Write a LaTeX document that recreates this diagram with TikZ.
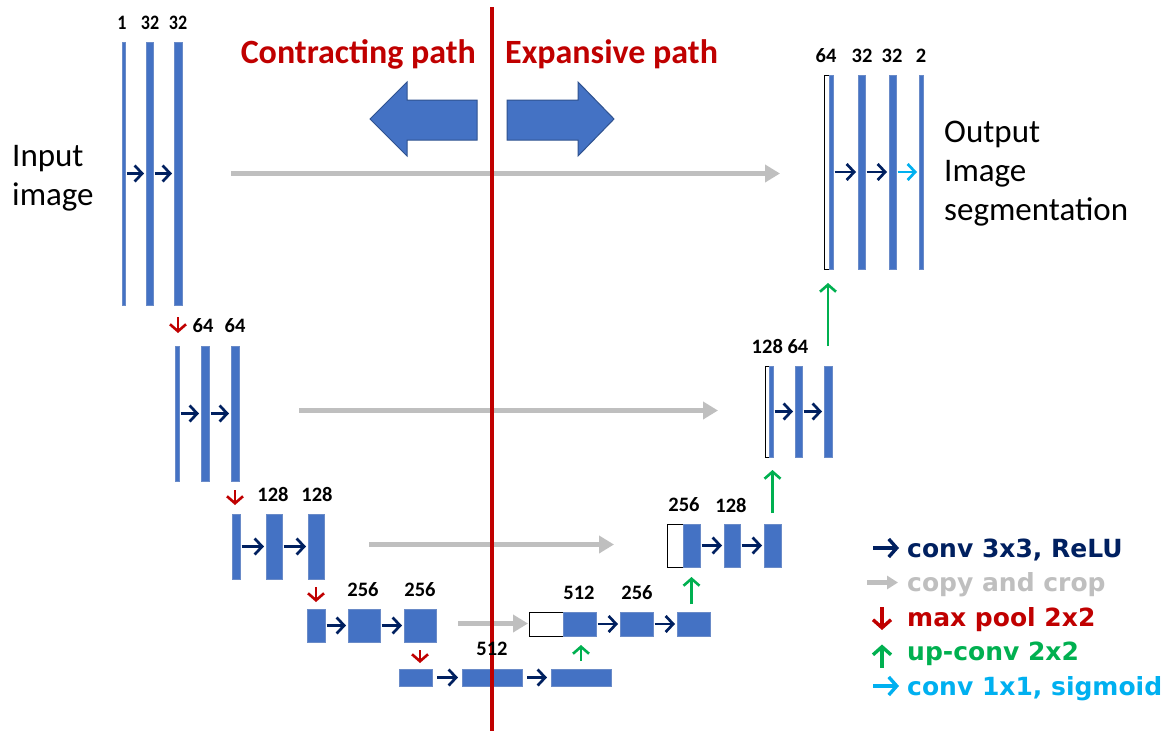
\documentclass[tikz,border=0pt]{standalone}
\usepackage{fontspec}
\setmainfont{Carlito}
\newfontfamily\legendfont{DejaVu Sans}
\usetikzlibrary{arrows.meta,calc}

\definecolor{fmblue}{HTML}{4472C4}
\definecolor{fmedge}{HTML}{6A8BC8}
\definecolor{blockedge}{HTML}{2F528F}
\definecolor{navy}{HTML}{002060}
\definecolor{cpgray}{HTML}{BFBFBF}
\definecolor{poolred}{HTML}{C00000}
\definecolor{upgreen}{HTML}{00B050}
\definecolor{sigcyan}{HTML}{00B0F0}

% feature map: name, x-left, x-right, y-top, y-bottom (pixels, y downwards)
\newcommand\fmap[5]{\node[blk, minimum width={#3-#2}, minimum height={#5-#4}] (#1) at ({(#2+#3)/2},{(#4+#5)/2}) {};}
\newcommand\fmapw[5]{\node[wblk, minimum width={#3-#2}, minimum height={#5-#4}] (#1) at ({(#2+#3)/2},{(#4+#5)/2}) {};}
\newcommand\narrow[1]{\scalebox{0.88}[1]{#1}}

\tikzset{
  blk/.style={draw=fmedge, fill=fmblue, line width=0.6pt, inner sep=0pt, outer sep=0pt},
  wblk/.style={draw=black, fill=white, line width=0.8pt, inner sep=0pt, outer sep=0pt},
  convarr/.style={navy, line width=2.7pt, shorten <=1.5pt, shorten >=2pt,
    -{Straight Barb[length=7.5pt,width=16pt]}},
  sigarr/.style={sigcyan, line width=2.7pt, shorten <=1.5pt, shorten >=2pt,
    -{Straight Barb[length=7.5pt,width=16pt]}},
  poolarr/.style={poolred, line width=2.6pt, -{Straight Barb[length=7pt,width=16pt]}},
  uparr/.style={upgreen, line width=2.6pt, -{Straight Barb[length=7pt,width=16pt]}},
  copyarr/.style={cpgray, line width=5.5pt, -{Triangle[length=15pt,width=17pt]}},
  num/.style={font=\fontsize{20.5}{20.5}\selectfont\bfseries, inner sep=0pt},
  pathlbl/.style={font=\fontsize{34}{34}\selectfont\bfseries, text=poolred, inner sep=0pt},
  io/.style={font=\fontsize{33}{33}\selectfont, inner sep=0pt, anchor=base west},
  lgd/.style={font=\legendfont\fontsize{25}{25}\selectfont\bfseries, inner sep=0pt, anchor=base west},
  blockarrow/.style={fill=fmblue, draw=blockedge, line width=1pt, line join=miter},
}

\begin{document}
\begin{tikzpicture}[x=1pt, y=-1pt]
\useasboundingbox (0,0) rectangle (1164,731);
\fill[white] (0,0) rectangle (1164,731);

% contracting path
\fmap{a1}{122}{125}{42}{305}
\fmap{a2}{146}{153}{42}{305}
\fmap{a3}{174}{182}{42}{305}
\fmap{b1}{175}{179}{346}{481}
\fmap{b2}{201}{209}{346}{481}
\fmap{b3}{231}{239}{346}{481}
\fmap{c1}{232}{240}{514}{579}
\fmap{c2}{266}{282}{514}{579}
\fmap{c3}{308}{324}{514}{579}
\fmap{d1}{307}{325}{609}{642}
\fmap{d2}{348}{380}{609}{642}
\fmap{d3}{404}{436}{609}{642}
% bottleneck
\fmap{e1}{399}{432}{669}{686}
\fmap{e2}{462}{522}{669}{686}
\fmap{e3}{551}{611}{669}{686}
% expansive path
\fmapw{f0}{529}{563}{612}{636}
\fmap{f1}{563}{596}{612}{636}
\fmap{f2}{620}{653}{612}{636}
\fmap{f3}{677}{710}{612}{636}
\fmapw{g0}{667}{683}{524}{567}
\fmap{g1}{683}{700}{524}{567}
\fmap{g2}{724}{740}{524}{567}
\fmap{g3}{764}{781}{524}{567}
\fmapw{h0}{765}{769}{366}{457}
\fmap{h1}{769}{773}{366}{457}
\fmap{h2}{795}{802}{366}{457}
\fmap{h3}{824}{832}{366}{457}
\fmapw{i0}{824}{829}{75}{269}
\fmap{i1}{829}{833}{75}{269}
\fmap{i2}{858}{865}{75}{269}
\fmap{i3}{889}{896}{75}{269}
\fmap{i4}{919}{923}{75}{269}

% 3x3 convolutions
\foreach \p/\q in {a1/a2,a2/a3,b1/b2,b2/b3,c1/c2,c2/c3,d1/d2,d2/d3,
                   f1/f2,f2/f3,g1/g2,g2/g3,h1/h2,h2/h3,i1/i2,i2/i3}
  \draw[convarr] (\p.east) -- (\q.west);
\draw[convarr, shorten <=5pt, shorten >=4pt] (e1.east) -- (e2.west);
\draw[convarr, shorten <=5pt, shorten >=4pt] (e2.east) -- (e3.west);
\draw[sigarr] (i3.east) -- (i4.west);

% skip connections
\draw[copyarr, shorten <=49pt, shorten >=44pt] (a3.east) -- (a3.east -| i0.west);
\draw[copyarr, shorten <=60pt, shorten >=47pt] ($(b3.east)+(0,-3)$) -- ($(b3.east -| h0.west)+(0,-3)$);
\draw[copyarr, shorten <=45pt, shorten >=53pt] ($(c3.east)+(0,-2)$) -- ($(c3.east -| g0.west)+(0,-2)$);
\draw[copyarr, shorten <=22pt, shorten >=1pt] ($(d3.east)+(0,-2)$) -- ($(d3.east -| f0.west)+(0,-2)$);

% max pooling
\draw[poolarr, shorten <=12pt, shorten >=13pt] (a3.south) -- (a3.south |- b1.north);
\draw[poolarr, shorten <=9pt, shorten >=9pt] (b3.south) -- (b3.south |- c1.north);
\draw[poolarr, shorten <=8pt, shorten >=7pt] (c3.south) -- (c3.south |- d1.north);
\draw[poolarr, shorten <=8pt, shorten >=6pt] (d3.south) -- (d3.south |- e1.north);

% up-convolutions
\draw[uparr, shorten <=8pt, shorten >=9pt] (e3.north) -- (e3.north |- f1.south);
\draw[uparr, shorten <=8pt, shorten >=10pt] (g1.south |- f3.north) -- (g1.south);
\draw[uparr, shorten <=11pt, shorten >=13pt] (g3.north) -- (g3.north |- h1.south);
\draw[uparr, shorten <=20pt, shorten >=14pt] (h3.north) -- (h3.north |- i1.south);

% direction arrows
\filldraw[blockarrow] (477,100) -- (407,100) -- (407,82) -- (370,119) -- (407,156) -- (407,140) -- (477,140) -- cycle;
\filldraw[blockarrow] (507,100) -- (578,100) -- (578,82) -- (614,119) -- (578,156) -- (578,140) -- (507,140) -- cycle;

% divider
\draw[poolred, line width=4.5pt] (492,7) -- (492,731);

% channel counts
\node[num] (n1) at (122,23) {\narrow{1}};
\node[num] (n2) at (150,23) {\narrow{32}};
\node[num] (n3) at (178,23) {\narrow{32}};
\node[num] (n4) at (203,326) {64};
\node[num] (n5) at (235,326) {64};
\node[num] (n6) at (273,494) {128};
\node[num] (n7) at (317,494) {128};
\node[num] (n8) at (363,590) {256};
\node[num] (n9) at (420,590) {256};
\node[num] (n10) at (492,649) {512};
\node[num] (n11) at (579,593) {512};
\node[num] (n12) at (637,593) {256};
\node[num] (n13) at (684,505) {256};
\node[num] (n14) at (731,505) {128};
\node[num] (n15) at (780,346) {128 64};
\node[num] (n16) at (826,56) {64};
\node[num] (n17) at (862,56) {32};
\node[num] (n18) at (892,56) {32};
\node[num] (n19) at (921,56) {2};

% headings
\node[pathlbl, anchor=base east] (contr) at (476,63) {Contracting path};
\node[pathlbl, anchor=base west] (expan) at (505,63) {Expansive path};

% input / output
\node[io] (in1) at (12,166) {Input};
\node[io] (in2) at (12,205) {image};
\node[io] (out1) at (944,142) {Output};
\node[io] (out2) at (944,181) {Image};
\node[io] (out3) at (944,220) {segmentation};

% legend
\node[lgd, text=navy] (lg1) at (907,557) {conv 3x3, ReLU};
\node[lgd, text=cpgray] (lg2) at (907,591.5) {copy and crop};
\node[lgd, text=poolred] (lg3) at (907,626) {max pool 2x2};
\node[lgd, text=upgreen] (lg4) at (907,660.5) {up-conv 2x2};
\node[lgd, text=sigcyan] (lg5) at (907,695) {conv 1x1, sigmoid};
\draw[navy, line width=3.4pt, -{Straight Barb[length=8pt,width=18pt]}]
  ($(lg1.base west)+(-34,-9)$) -- ($(lg1.base west)+(-8,-9)$);
\draw[cpgray, line width=4.5pt, -{Triangle[length=11pt,width=13pt]}]
  ($(lg2.base west)+(-40,-9)$) -- ($(lg2.base west)+(-9,-9)$);
\draw[poolred, line width=3.4pt, -{Straight Barb[length=8pt,width=18pt]}]
  ($(lg3.base west)+(-25,-19)$) -- ($(lg3.base west)+(-25,4)$);
\draw[upgreen, line width=3.4pt, -{Straight Barb[length=8pt,width=18pt]}]
  ($(lg4.base west)+(-25,7)$) -- ($(lg4.base west)+(-25,-16)$);
\draw[sigcyan, line width=3.4pt, -{Straight Barb[length=8pt,width=18pt]}]
  ($(lg5.base west)+(-34,-9)$) -- ($(lg5.base west)+(-8,-9)$);
\end{tikzpicture}
\end{document}
